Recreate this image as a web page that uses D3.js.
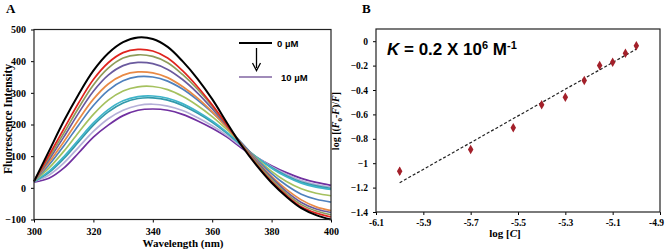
<!DOCTYPE html>
<html>
<head>
<meta charset="utf-8">
<script src="https://cdn.jsdelivr.net/npm/d3@7"></script>
<style>
  body { margin: 0; background: #fff; }
  svg { display: block; }
</style>
</head>
<body>
<div id="chart"></div>
<script>
// Panel A : spectres de fluorescence (0 à 10 µM)
const wavelengths = [300, 305, 310, 315, 320, 325, 330, 335, 340, 345, 350, 355, 360, 365, 370, 375, 380, 385, 390, 395, 400];
const int0  = [20, 115, 210, 295, 370, 425, 460, 475, 470, 445, 400, 345, 280, 205, 132, 70, 16, -28, -64, -86, -100];
const int1  = [21, 102, 185, 268, 342, 395, 427, 437, 432, 410, 370, 320, 262, 198, 134, 73, 20, -24, -60, -80, -92];
const int2  = [21, 95, 172, 252, 325, 378, 410, 420, 415, 395, 358, 312, 258, 198, 137, 78, 26, -18, -53, -73, -85];
const int3  = [21, 88, 160, 236, 305, 356, 386, 396, 392, 374, 342, 300, 250, 195, 138, 82, 32, -12, -46, -67, -78];
const int4  = [21, 80, 145, 215, 280, 328, 356, 366, 363, 348, 320, 284, 240, 190, 138, 85, 36, -5, -38, -60, -72];
const int5  = [21, 72, 132, 198, 260, 308, 338, 351, 350, 337, 312, 278, 238, 192, 141, 90, 45, 8, -20, -36, -45];
const int6  = [21, 62, 115, 175, 232, 277, 306, 319, 320, 310, 289, 260, 225, 184, 138, 93, 52, 20, -3, -17, -25];
const int7  = [20, 52, 98, 152, 205, 247, 275, 288, 290, 283, 266, 241, 211, 175, 134, 96, 62, 35, 15, 2, -5];
const int8  = [20, 48, 92, 145, 198, 240, 268, 282, 284, 277, 260, 236, 207, 172, 133, 96, 64, 38, 18, 6, -2];
const int9  = [20, 40, 78, 128, 178, 218, 245, 260, 264, 258, 244, 222, 196, 165, 130, 97, 67, 43, 23, 10, 2];
const int10 = [18, 30, 62, 110, 160, 198, 228, 245, 249, 245, 232, 212, 188, 160, 125, 96, 70, 48, 30, 17, 8];
const spectra = [int0, int1, int2, int3, int4, int5, int6, int7, int8, int9, int10];
const spectraColors = ["#000000", "#e0241e", "#8e9c5a", "#6a5a9e", "#e98a45", "#4f81bd",
                       "#a5c15e", "#3fb4c9", "#3399aa", "#b5b0d8", "#7030a0"];
const xTicksA = [300, 320, 340, 360, 380, 400];
const yTicksA = [-100, 0, 100, 200, 300, 400, 500];
const legendLabels = ["0 µM", "10 µM"];

// Panel B : log [(F0-F)/F] en fonction de log [C]
const logC = [-6.0, -5.7, -5.52, -5.4, -5.3, -5.22, -5.155, -5.1, -5.046, -5.0];
const logRatio = [-1.066, -0.888, -0.71, -0.52, -0.459, -0.322, -0.199, -0.172, -0.098, -0.038];
const errRatio = [0.03, 0.02, 0.02, 0.015, 0.015, 0.015, 0.015, 0.015, 0.015, 0.015];
const trendX = [-6.0, -5.0];
const trendY = [-1.16, -0.065];
const xTicksB = [-6.1, -5.9, -5.7, -5.5, -5.3, -5.1, -4.9];
const yTicksB = [-1.4, -1.2, -1, -0.8, -0.6, -0.4, -0.2, 0];

const svg = d3.select("#chart").append("svg")
    .attr("width", 666)
    .attr("height", 250);

const serif = "'Liberation Serif', 'Times New Roman', serif";
const sans = "'Liberation Sans', Arial, sans-serif";

// ---------- Panel A ----------
const xA = d3.scaleLinear().domain([300, 400]).range([34, 331]);
const yA = d3.scaleLinear().domain([-100, 500]).range([219.5, 29.5]);

svg.append("g")
    .attr("transform", "translate(0," + yA(-100) + ")")
    .call(d3.axisBottom(xA).tickValues(xTicksA).tickSize(3).tickSizeOuter(0))
    .call(g => g.select(".domain").remove())
    .selectAll("text")
    .attr("dy", "0.95em")
    .style("font-family", serif)
    .style("font-weight", "bold")
    .style("font-size", "10px");

svg.append("g")
    .attr("transform", "translate(" + xA(300) + ",0)")
    .call(d3.axisLeft(yA).tickValues(yTicksA).tickSize(3).tickSizeOuter(0).tickFormat(d3.format("d")))
    .call(g => g.select(".domain").remove())
    .selectAll("text")
    .attr("x", -8)
    .style("font-family", serif)
    .style("font-weight", "bold")
    .style("font-size", "10px");

const line = d3.line()
    .x((d, i) => xA(wavelengths[i]))
    .y(d => yA(d))
    .curve(d3.curveCatmullRom);

// tracer du 10 µM vers le 0 µM pour que le noir soit au-dessus
spectra.slice().reverse().forEach((s, k) => {
    const idx = spectra.length - 1 - k;
    svg.append("path")
        .datum(s)
        .attr("d", line)
        .attr("fill", "none")
        .attr("stroke", spectraColors[idx])
        .attr("stroke-width", idx === 0 ? 2 : 1.7);
});

svg.append("rect")
    .attr("x", xA(300)).attr("y", yA(500))
    .attr("width", xA(400) - xA(300)).attr("height", yA(-100) - yA(500))
    .attr("fill", "none").attr("stroke", "#222").attr("stroke-width", 1.2);

// légende
svg.append("line").attr("x1", 239).attr("x2", 272).attr("y1", 43).attr("y2", 43)
    .attr("stroke", "#000").attr("stroke-width", 2);
svg.append("text").text(legendLabels[0]).attr("x", 277).attr("y", 46.5)
    .style("font-family", sans).style("font-weight", "bold").style("font-size", "9.5px");
svg.append("line").attr("x1", 256.5).attr("x2", 256.5).attr("y1", 48).attr("y2", 68)
    .attr("stroke", "#000").attr("stroke-width", 1.3);
svg.append("path").attr("d", "M252.5,63 L256.5,70.5 L260.5,63")
    .attr("fill", "none").attr("stroke", "#000").attr("stroke-width", 1.3);
svg.append("line").attr("x1", 239).attr("x2", 272).attr("y1", 77).attr("y2", 77)
    .attr("stroke", "#8064a2").attr("stroke-width", 1.3);
svg.append("text").text(legendLabels[1]).attr("x", 281).attr("y", 80.5)
    .style("font-family", sans).style("font-weight", "bold").style("font-size", "9.5px");

// titres des axes
svg.append("text").text("Wavelength (nm)")
    .attr("x", 183).attr("y", 247).attr("text-anchor", "middle")
    .style("font-family", serif).style("font-weight", "bold").style("font-size", "11px");
svg.append("text").text("Fluorescence Intensity")
    .attr("transform", "translate(12,119) rotate(-90)").attr("text-anchor", "middle")
    .style("font-family", serif).style("font-weight", "bold").style("font-size", "11.5px");
svg.append("text").text("A").attr("x", 6).attr("y", 13)
    .style("font-family", serif).style("font-weight", "bold").style("font-size", "13px");

// ---------- Panel B ----------
const xB = d3.scaleLinear().domain([-6.1, -4.9]).range([376, 660]);
const yB = d3.scaleLinear().domain([-1.4, 0.1]).range([212, 29]);

svg.append("g")
    .attr("transform", "translate(0," + yB(-1.4) + ")")
    .call(d3.axisBottom(xB).tickValues(xTicksB).tickSize(3).tickSizeOuter(0).tickFormat(d => d.toFixed(1)))
    .call(g => g.select(".domain").remove())
    .selectAll("text")
    .attr("dy", "0.85em")
    .attr("x", d => d === -4.9 ? -4 : 0)
    .style("font-family", serif)
    .style("font-weight", "bold")
    .style("font-size", "9.5px");

svg.append("g")
    .attr("transform", "translate(" + xB(-6.1) + ",0)")
    .call(d3.axisLeft(yB).tickValues(yTicksB).tickSize(3).tickSizeOuter(0).tickFormat(d => d3.format("")(+d.toFixed(1))))
    .call(g => g.select(".domain").remove())
    .selectAll("text")
    .attr("x", -8)
    .style("font-family", serif)
    .style("font-weight", "bold")
    .style("font-size", "9.5px");

svg.append("rect")
    .attr("x", xB(-6.1)).attr("y", yB(0.1))
    .attr("width", xB(-4.9) - xB(-6.1)).attr("height", yB(-1.4) - yB(0.1))
    .attr("fill", "none").attr("stroke", "#222").attr("stroke-width", 1.2);

svg.append("line")
    .attr("x1", xB(trendX[0])).attr("y1", yB(trendY[0]))
    .attr("x2", xB(trendX[1])).attr("y2", yB(trendY[1]))
    .attr("stroke", "#222").attr("stroke-width", 1.2)
    .attr("stroke-dasharray", "3,2");

const pts = logC.map((c, i) => ({ c: c, r: logRatio[i], e: errRatio[i] }));

svg.selectAll(".err")
    .data(pts)
    .enter()
    .append("line")
    .attr("class", "err")
    .attr("x1", d => xB(d.c)).attr("x2", d => xB(d.c))
    .attr("y1", d => yB(d.r + d.e)).attr("y2", d => yB(d.r - d.e))
    .attr("stroke", "#a3202a").attr("stroke-width", 1.3);

svg.selectAll(".pt")
    .data(pts)
    .enter()
    .append("path")
    .attr("class", "pt")
    .attr("transform", d => "translate(" + xB(d.c) + "," + yB(d.r) + ")")
    .attr("d", d3.symbol().type(d3.symbolDiamond).size(26))
    .attr("fill", "#a3202a");

svg.append("text")
    .attr("x", 387).attr("y", 55)
    .style("font-family", sans).style("font-weight", "bold").style("font-size", "17px")
    .call(t => {
        t.append("tspan").text("K").style("font-style", "italic");
        t.append("tspan").text(" = 0.2 X 10");
        t.append("tspan").text("6").attr("dy", -6).style("font-size", "11px");
        t.append("tspan").text(" M").attr("dy", 6);
        t.append("tspan").text("-1").attr("dy", -6).style("font-size", "11px");
    });

svg.append("text")
    .attr("x", 505).attr("y", 237).attr("text-anchor", "middle")
    .style("font-family", serif).style("font-weight", "bold").style("font-size", "11px")
    .call(t => {
        t.append("tspan").text("log [");
        t.append("tspan").text("C").style("font-style", "italic");
        t.append("tspan").text("]");
    });

svg.append("text")
    .attr("transform", "translate(339,121) rotate(-90)").attr("text-anchor", "middle")
    .style("font-family", serif).style("font-weight", "bold").style("font-size", "10px")
    .call(t => {
        t.append("tspan").text("log [(");
        t.append("tspan").text("F").style("font-style", "italic");
        t.append("tspan").text("0").attr("dy", 2.5).style("font-size", "7px");
        t.append("tspan").text("-").attr("dy", -2.5);
        t.append("tspan").text("F").style("font-style", "italic");
        t.append("tspan").text(")/");
        t.append("tspan").text("F").style("font-style", "italic");
        t.append("tspan").text("]");
    });

svg.append("text").text("B").attr("x", 362).attr("y", 13)
    .style("font-family", serif).style("font-weight", "bold").style("font-size", "13px");
</script>
</body>
</html>
